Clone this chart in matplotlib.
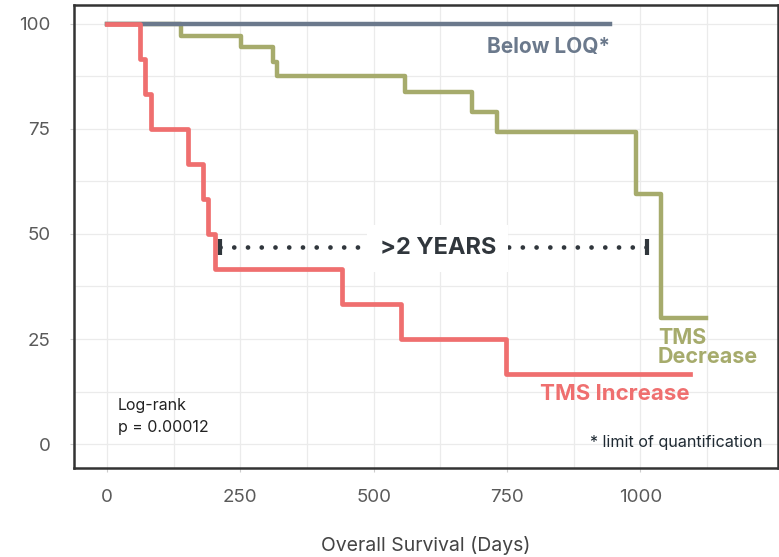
import numpy as np
import matplotlib.pyplot as plt

# Kaplan-Meier step data (days, % surviving)
inc_days = [0, 62, 72, 82, 151, 180, 190, 202, 441, 551, 748, 1093]
inc_surv = [100, 91.7, 83.3, 75, 66.7, 58.3, 50, 41.7, 33.3, 25, 16.7, 16.7]

dec_days = [0, 139, 252, 311, 318, 559, 684, 731, 991, 1039, 1123]
dec_surv = [100, 97.2, 94.4, 91, 87.5, 83.8, 79, 74.3, 59.6, 29.9, 29.9]

loq_days = [0, 943]
loq_surv = [100, 100]

gap_days = [212, 1012]
gap_level = 46.9

x_ticks = [0, 250, 500, 750, 1000]
y_ticks = [0, 25, 50, 75, 100]

RED = "#ef6f6f"
GREEN = "#a6ab6c"
GREY = "#6b798c"
DARK = "#30363c"

plt.rcParams["font.family"] = ["Inter", "DejaVu Sans"]

fig = plt.figure(figsize=(7.79, 5.57), dpi=100)
ax = fig.add_axes([74 / 779, 89 / 557, 704 / 779, 463 / 557])

ax.step(dec_days, dec_surv, where="post", color=GREEN, lw=3.2, zorder=3)
ax.step(loq_days, loq_surv, where="post", color=GREY, lw=3.2, zorder=4)
ax.step(inc_days, inc_surv, where="post", color=RED, lw=3.4, zorder=5)

# dotted ">2 years" bracket
ax.plot(gap_days, [gap_level, gap_level], color=DARK, lw=3.4,
        linestyle=(0, (0.01, 2.9)), dash_capstyle="round", zorder=6)
ax.plot(gap_days, [gap_level, gap_level], color=DARK, lw=0, marker="|",
        markersize=12, markeredgewidth=3, zorder=6)
ax.text(np.mean(gap_days) + 8, gap_level - 0.3, ">2 YEARS", ha="center", va="center",
        fontsize=17, fontweight="bold", color=DARK, zorder=7,
        bbox=dict(facecolor="white", edgecolor="none", pad=9))

ax.text(943, 94.5, "Below LOQ*", ha="right", va="center", fontsize=15,
        fontweight="bold", color=GREY)
ax.text(1033, 23.0, "TMS\nDecrease", ha="left", va="center", fontsize=15.5,
        fontweight="bold", color=GREEN, linespacing=0.95)
ax.text(1093, 12.0, "TMS Increase", ha="right", va="center", fontsize=16,
        fontweight="bold", color=RED)
ax.text(1228, 0.4, "* limit of quantification", ha="right", va="center",
        fontsize=11.6, color="#1f2a33")
ax.text(20, 6.5, "Log-rank\np = 0.00012", ha="left", va="center",
        fontsize=11.5, color="#222222", linespacing=1.6)

ax.set_xlim(-62, 1258)
ax.set_ylim(-5.7, 104.5)
ax.set_xticks(x_ticks)
ax.set_yticks(y_ticks)
ax.set_xticks(np.arange(125, 1250, 250), minor=True)
ax.set_yticks(np.arange(12.5, 100, 25), minor=True)
ax.tick_params(which="minor", length=0)
ax.tick_params(which="major", length=3, color="#cccccc", labelsize=13.5,
               labelcolor="#5a5a5a")
ax.tick_params(axis="x", pad=12)
ax.tick_params(axis="y", pad=14)
ax.grid(which="both", color="#ebebeb", lw=0.9)
ax.set_axisbelow(True)
for s in ax.spines.values():
    s.set_color("#333333")
    s.set_linewidth(1.8)

ax.set_xlabel("Overall Survival (Days)", fontsize=14, color="#444444", labelpad=22)

fig.savefig("out.png", dpi=100)
